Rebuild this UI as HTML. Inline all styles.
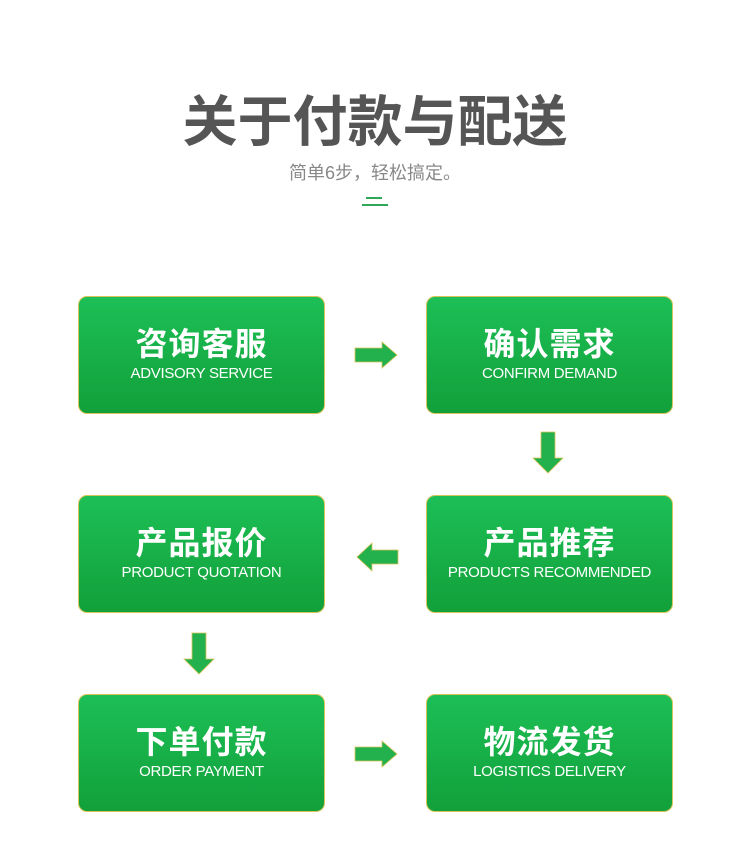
<!DOCTYPE html>
<html><head><meta charset="utf-8"><style>
body{margin:0;width:750px;height:864px;background:#fff;position:relative;overflow:hidden;font-family:"Liberation Sans","Noto Sans CJK SC",sans-serif}
.t{position:absolute;left:0;width:750px;text-align:center}
.box{position:absolute;width:245px;height:116px;border:1px solid #d9c45a;border-radius:9px;background:linear-gradient(#1dbf56,#12a03a);color:#fff;text-align:center;box-sizing:content-box}
.box .cn{font-size:32px;font-weight:bold;margin-top:29px;line-height:36px;letter-spacing:1px}
.box .en{font-size:15px;line-height:18px;margin-top:3px;letter-spacing:-0.3px}
svg{position:absolute;left:0;top:0}
</style></head><body>
<div class="t" style="top:88px;font-size:55px;font-weight:bold;color:#555;line-height:68px">关于付款与配送</div>
<div class="t" style="top:161px;font-size:18px;color:#888;line-height:24px">简单6步，轻松搞定。</div>
<div style="position:absolute;left:366px;top:197px;width:16px;height:2px;background:#2fa85a"></div>
<div style="position:absolute;left:362px;top:204px;width:26px;height:2px;background:#2fa85a"></div>

<div class="box" style="left:78px;top:296px"><div class="cn">咨询客服</div><div class="en">ADVISORY SERVICE</div></div>
<div class="box" style="left:426px;top:296px"><div class="cn">确认需求</div><div class="en">CONFIRM DEMAND</div></div>
<div class="box" style="left:78px;top:495px"><div class="cn">产品报价</div><div class="en">PRODUCT QUOTATION</div></div>
<div class="box" style="left:426px;top:495px"><div class="cn">产品推荐</div><div class="en">PRODUCTS RECOMMENDED</div></div>
<div class="box" style="left:78px;top:694px"><div class="cn">下单付款</div><div class="en">ORDER PAYMENT</div></div>
<div class="box" style="left:426px;top:694px"><div class="cn">物流发货</div><div class="en">LOGISTICS DELIVERY</div></div>

<svg width="750" height="864" fill="#22b14c" stroke="#d9c45a" stroke-width="0.8">
<polygon points="355,348 382,348 382,342 397,355 382,368 382,362 355,362"/>
<polygon points="355,747 382,747 382,741 397,754 382,767 382,761 355,761"/>
<polygon points="398,550 372,550 372,543 357,557 372,571 372,564 398,564"/>
<polygon points="541,432 555,432 555,458 563,458 548,473 533,458 541,458"/>
<polygon points="192,633 206,633 206,659 214,659 199,674 184,659 192,659"/>
</svg>
</body></html>
